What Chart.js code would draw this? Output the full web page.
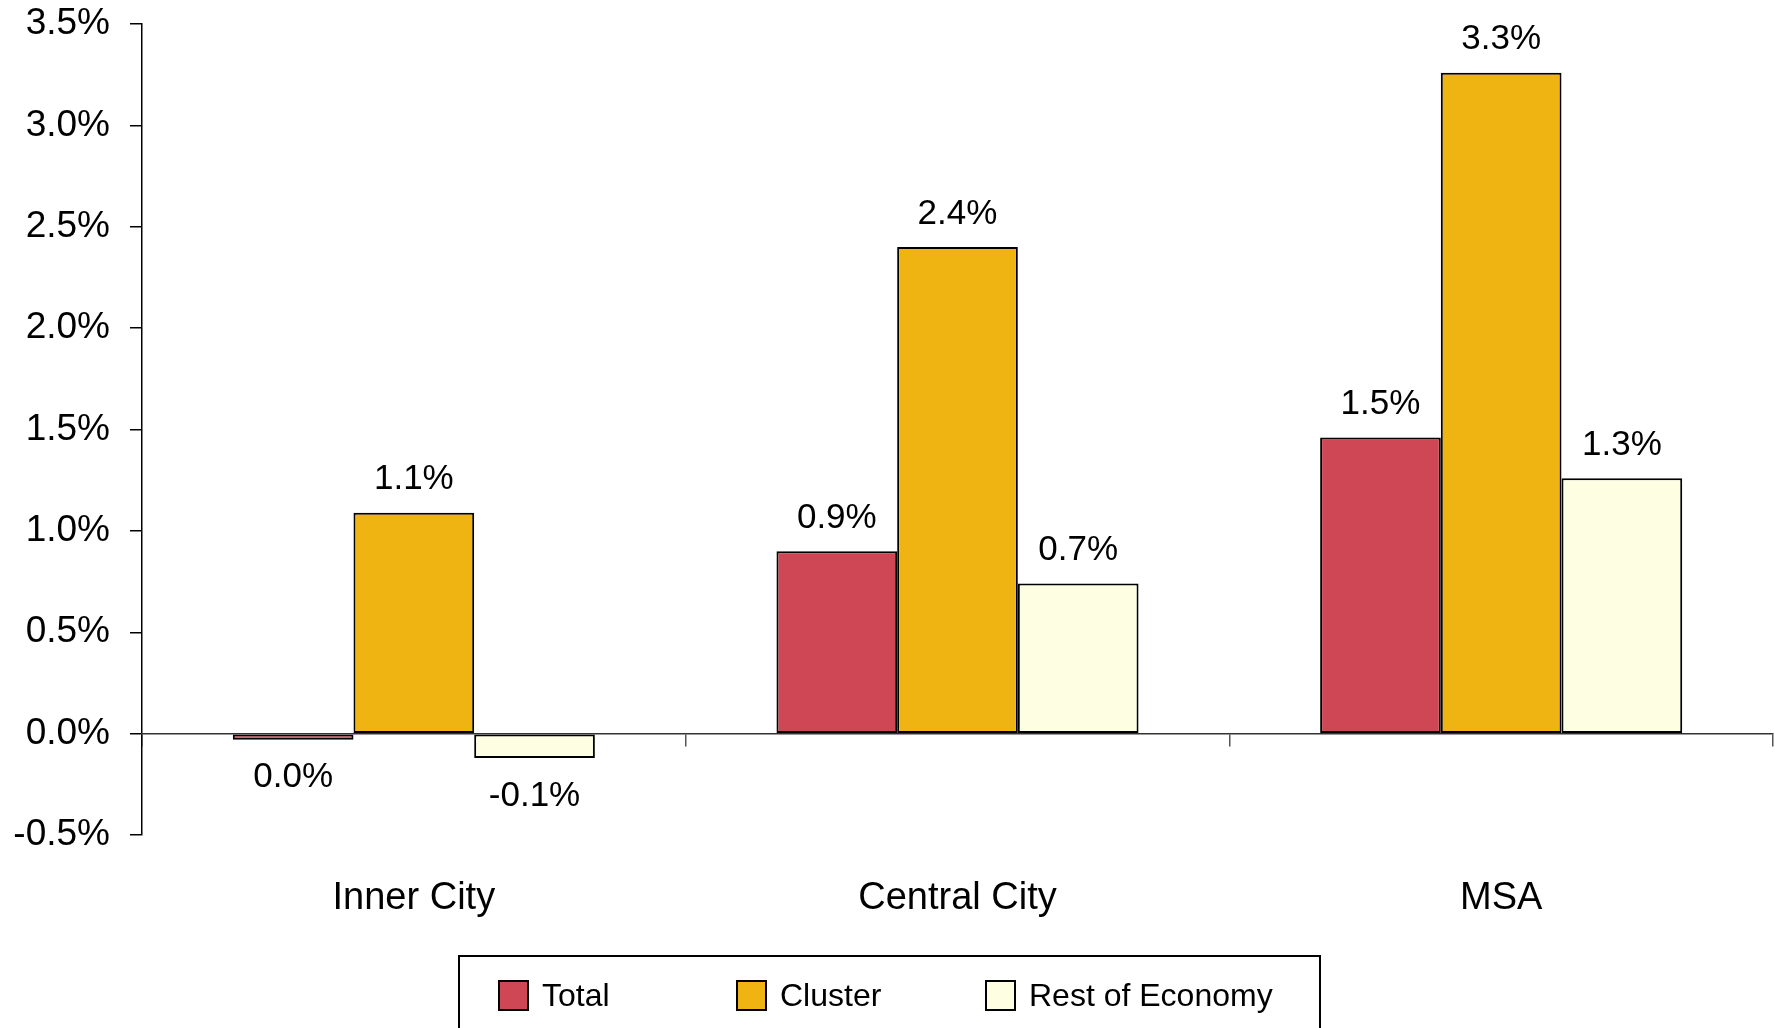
<!DOCTYPE html>
<html>
<head>
<meta charset="utf-8">
<script src="https://cdn.jsdelivr.net/npm/chart.js@4/dist/chart.umd.min.js"></script>
<style>
  html, body { margin: 0; padding: 0; background: #ffffff; }
  #wrap { width: 1775px; height: 1028px; }
</style>
</head>
<body>
<div id="wrap"><canvas id="growth" width="1775" height="1028"></canvas></div>
<script>
// Employment growth by geography, percent
const categories = ['Inner City', 'Central City', 'MSA'];
const totalGrowth = [-0.03, 0.90, 1.46];
const clusterGrowth = [1.09, 2.40, 3.26];
const restGrowth = [-0.12, 0.74, 1.26];
const seriesNames = ['Total', 'Cluster', 'Rest of Economy'];
const seriesColors = ['#CF4655', '#F0B412', '#FEFEE2'];
const yTickMin = -0.5, yTickMax = 3.5, yTickStep = 0.5;

const FONT = '"Liberation Sans", Arial, sans-serif';

function pct(v) {
  let s = v.toFixed(1);
  if (s === '-0.0') s = '0.0';
  return s + '%';
}

// value labels above positive bars, below negative ones
const valueLabels = {
  id: 'valueLabels',
  afterDatasetsDraw(chart) {
    const ctx = chart.ctx;
    ctx.save();
    ctx.font = '35px ' + FONT;
    ctx.fillStyle = '#000';
    ctx.textAlign = 'center';
    ctx.textBaseline = 'middle';
    chart.data.datasets.forEach((ds, di) => {
      const meta = chart.getDatasetMeta(di);
      meta.data.forEach((bar, i) => {
        const v = ds.data[i];
        const y = v >= 0 ? Math.min(bar.y, bar.base) - 33 : Math.max(bar.y, bar.base) + 38;
        ctx.fillText(pct(v), bar.x, y);
      });
    });
    ctx.restore();
  }
};

// boxed legend below the category labels
const boxedLegend = {
  id: 'boxedLegend',
  afterDraw(chart) {
    const ctx = chart.ctx;
    ctx.save();
    ctx.strokeStyle = '#000';
    ctx.lineWidth = 2;
    ctx.strokeRect(459, 956, 861, 74);
    const boxX = [499, 737, 986];
    ctx.font = '32px ' + FONT;
    ctx.textBaseline = 'middle';
    ctx.textAlign = 'left';
    chart.data.datasets.forEach((ds, i) => {
      ctx.fillStyle = ds.backgroundColor;
      ctx.fillRect(boxX[i], 981, 29, 29);
      ctx.strokeRect(boxX[i], 981, 29, 29);
      ctx.fillStyle = '#000';
      ctx.fillText(ds.label, boxX[i] + 43, 997);
    });
    ctx.restore();
  }
};

const datasets = [totalGrowth, clusterGrowth, restGrowth].map((d, i) => ({
  label: seriesNames[i],
  data: d,
  backgroundColor: seriesColors[i],
  borderColor: '#000',
  borderWidth: 2,
  borderSkipped: false,
  categoryPercentage: 0.666,
  barPercentage: 1.0
}));

new Chart(document.getElementById('growth'), {
  type: 'bar',
  data: { labels: categories, datasets },
  options: {
    responsive: false,
    animation: false,
    events: [],
    layout: { padding: { top: 24, right: 2, left: 0, bottom: 0 } },
    plugins: {
      legend: { display: false },
      tooltip: { enabled: false }
    },
    scales: {
      y: {
        min: yTickMin,
        max: yTickMax,
        ticks: {
          stepSize: yTickStep,
          padding: 20,
          color: '#000',
          font: { family: FONT, size: 37 },
          callback: v => v.toFixed(1) + '%'
        },
        grid: { drawOnChartArea: false, drawTicks: true, tickLength: 12, color: '#000', lineWidth: 1.5 },
        border: { display: true, color: '#000', width: 1.5 },
        afterFit(scale) {
          scale.width = 142;
          scale.paddingTop = 0;
          scale.paddingBottom = 0;
        }
      },
      x: {
        position: 'bottom',
        ticks: {
          padding: 41,
          color: '#000',
          font: { family: FONT, size: 38 }
        },
        grid: { display: false, drawTicks: false },
        border: { display: false },
        afterFit(scale) {
          scale.height = 193;
          scale.paddingLeft = 0;
          scale.paddingRight = 0;
        }
      },
      zero: {
        type: 'category',
        axis: 'x',
        labels: categories,
        position: { y: 0 },
        offset: true,
        ticks: { display: false },
        grid: { display: true, offset: true, drawOnChartArea: false, drawTicks: true, tickLength: 12, color: '#555', lineWidth: 1.5 },
        border: { display: true, color: '#333', width: 1.5 }
      }
    }
  },
  plugins: [valueLabels, boxedLegend]
});
</script>
</body>
</html>
